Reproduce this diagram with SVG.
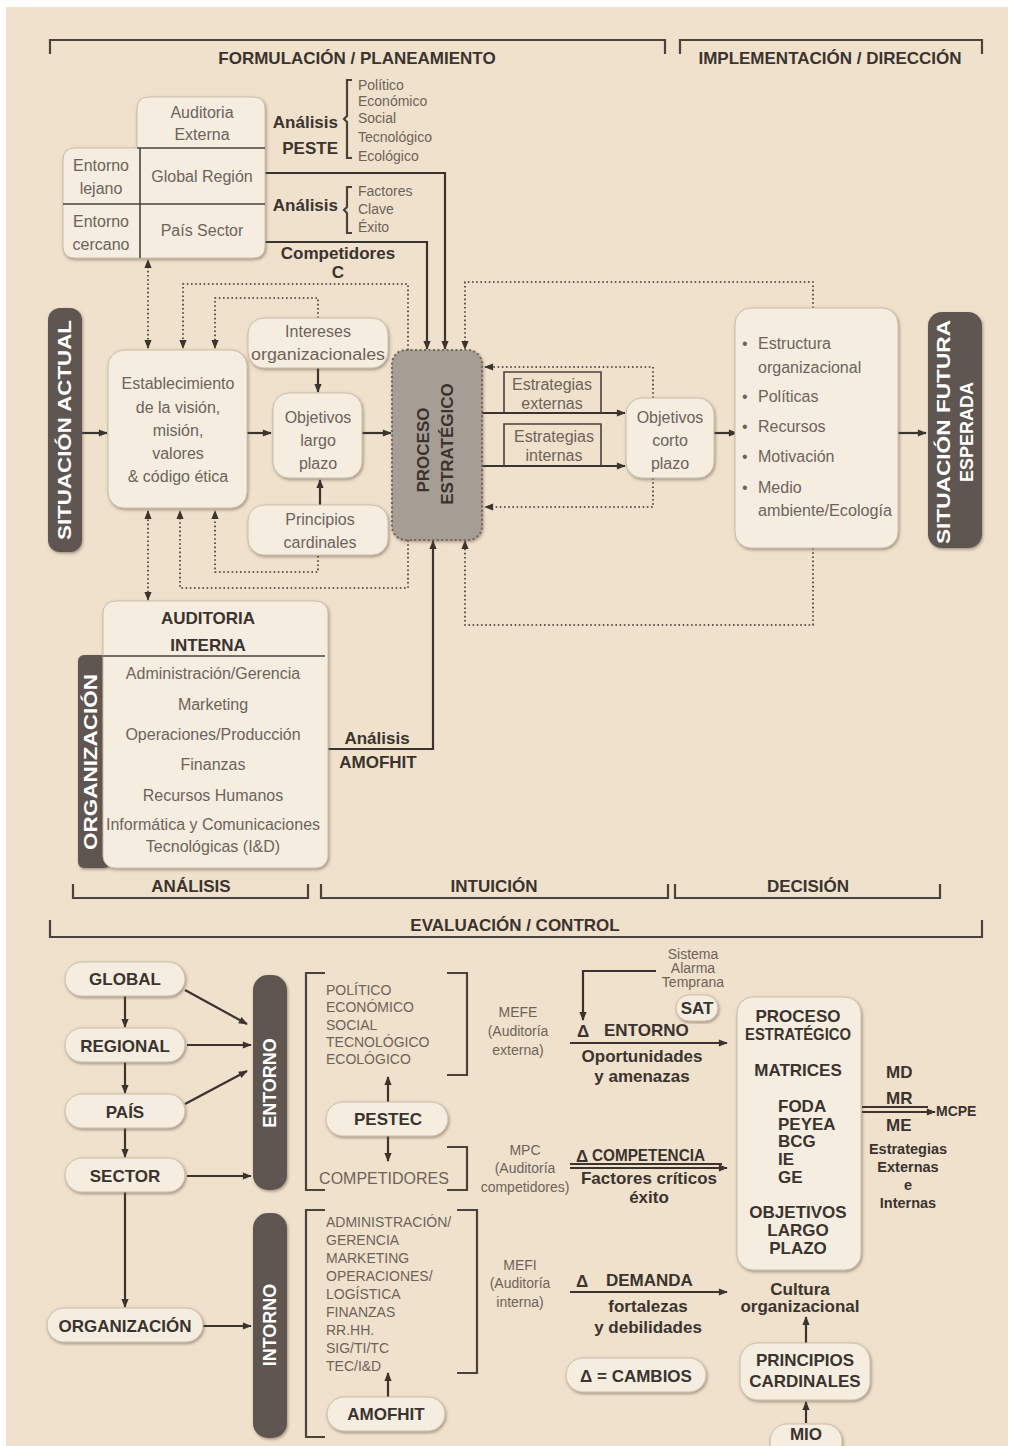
<svg xmlns="http://www.w3.org/2000/svg" width="1014" height="1446" viewBox="0 0 1014 1446">
<defs>
  <filter id="sh" x="-10%" y="-10%" width="120%" height="120%">
    <feDropShadow dx="1" dy="1.5" stdDeviation="1.8" flood-color="#5e5044" flood-opacity="0.55"/>
  </filter>
  <marker id="ah" viewBox="0 0 10 10" refX="9" refY="5" markerWidth="10" markerHeight="9" markerUnits="userSpaceOnUse" orient="auto-start-reverse">
    <path d="M0,1 L10,5 L0,9 Z" fill="#3a332e"/>
  </marker>
  <style>
    .box{fill:#f6ede1;stroke:#cdbda9;stroke-width:1;filter:url(#sh)}
    .bar{fill:#5f5751;filter:url(#sh)}
    .proc{fill:#a69d95;stroke:#6e665e;stroke-width:2;stroke-dasharray:2 2.5;filter:url(#sh)}
    .ln{fill:none;stroke:#3a332e;stroke-width:2.2}
    .dot{fill:none;stroke:#3a332e;stroke-width:1.6;stroke-dasharray:1.6 2.6}
    .brk{fill:none;stroke:#4a423c;stroke-width:2.2}
    .div{fill:none;stroke:#4a423c;stroke-width:1.6}
    text{font-family:"Liberation Sans",Arial,sans-serif}
    .t{fill:#6d635a;font-size:16px}
    .s{fill:#6d635a;font-size:14px}
    .b{fill:#3a332e;font-weight:bold;font-size:17px}
    .w{fill:#ffffff;font-weight:bold;font-size:18px}
    .c{text-anchor:middle}
    .e{text-anchor:end}
  </style>
</defs>

<!-- page -->
<rect x="0" y="0" width="1014" height="1446" fill="#ffffff"/>
<rect x="6" y="7" width="1002" height="1439" fill="#f0e1cc"/>

<!-- section brackets -->
<g id="headers">
  <path class="brk" d="M50,54 V40 H665 V54"/>
  <text class="b c" x="357" y="64" font-size="18">FORMULACIÓN / PLANEAMIENTO</text>
  <path class="brk" d="M680,54 V40 H982 V54"/>
  <text class="b c" x="830" y="64" font-size="18">IMPLEMENTACIÓN / DIRECCIÓN</text>
  <path class="brk" d="M73,884 V898 H308 V884"/>
  <text class="b c" x="191" y="892" font-size="18">ANÁLISIS</text>
  <path class="brk" d="M321,884 V898 H668 V884"/>
  <text class="b c" x="494" y="892" font-size="18">INTUICIÓN</text>
  <path class="brk" d="M675,884 V898 H940 V884"/>
  <text class="b c" x="808" y="892" font-size="18">DECISIÓN</text>
  <path class="brk" d="M50,920 V937 H982 V920"/>
  <text class="b c" x="515" y="931" font-size="18">EVALUACIÓN / CONTROL</text>
</g>

<!-- connectors -->
<g id="connectors">
  <!-- upper flow -->
  <path class="ln" d="M82,433 H107" marker-end="url(#ah)"/>
  <path class="ln" d="M247,433 H271" marker-end="url(#ah)"/>
  <path class="ln" d="M318,368 V392" marker-end="url(#ah)"/>
  <path class="ln" d="M320,505 V480" marker-end="url(#ah)"/>
  <path class="ln" d="M362,433 H391" marker-end="url(#ah)"/>
  <path class="ln" d="M265,173 H445 V349" marker-end="url(#ah)"/>
  <path class="ln" d="M265,242 H427 V349" marker-end="url(#ah)"/>
  <path class="ln" d="M328,749 H433 V541" marker-end="url(#ah)"/>
  <path class="ln" d="M482,413 H625" marker-end="url(#ah)"/>
  <path class="ln" d="M482,466 H625" marker-end="url(#ah)"/>
  <path class="ln" d="M714,433 H737" marker-end="url(#ah)"/>
  <path class="ln" d="M898,433 H926" marker-end="url(#ah)"/>
  <!-- estrategia labels -->
  <path class="div" d="M504,413 V372 H601 V413"/>
  <path class="div" d="M504,466 V424 H601 V466"/>
  <!-- feedback loops (dotted) -->
  <path class="dot" d="M148,348 V260" marker-start="url(#ah)" marker-end="url(#ah)"/>
  <path class="dot" d="M148,511 V600" marker-start="url(#ah)" marker-end="url(#ah)"/>
  <path class="dot" d="M408,350 V284 H183 V348" marker-end="url(#ah)"/>
  <path class="dot" d="M408,540 V588 H180 V511" marker-end="url(#ah)"/>
  <path class="dot" d="M318,318 V298 H215 V348" marker-end="url(#ah)"/>
  <path class="dot" d="M318,556 V572 H215 V511" marker-end="url(#ah)"/>
  <path class="dot" d="M653,398 V367 H485" marker-end="url(#ah)"/>
  <path class="dot" d="M653,478 V507 H485" marker-end="url(#ah)"/>
  <path class="dot" d="M813,308 V282 H465 V349" marker-end="url(#ah)"/>
  <path class="dot" d="M813,548 V625 H465 V541" marker-end="url(#ah)"/>

  <!-- lower flow -->
  <path class="ln" d="M125,996 V1027" marker-end="url(#ah)"/>
  <path class="ln" d="M125,1062 V1093" marker-end="url(#ah)"/>
  <path class="ln" d="M125,1128 V1157" marker-end="url(#ah)"/>
  <path class="ln" d="M125,1192 V1307" marker-end="url(#ah)"/>
  <path class="ln" d="M185,990 L247,1024" marker-end="url(#ah)"/>
  <path class="ln" d="M187,1045 H251" marker-end="url(#ah)"/>
  <path class="ln" d="M185,1104 L247,1071" marker-end="url(#ah)"/>
  <path class="ln" d="M187,1176 H251" marker-end="url(#ah)"/>
  <path class="ln" d="M203,1326 H251" marker-end="url(#ah)"/>
  <path class="ln" d="M388,1102 V1077" marker-end="url(#ah)"/>
  <path class="ln" d="M388,1136 V1161" marker-end="url(#ah)"/>
  <path class="ln" d="M388,1397 V1373" marker-end="url(#ah)"/>
  <path class="ln" d="M656,971 H583 V1020" marker-end="url(#ah)"/>
  <path class="ln" d="M570,1043 H727" marker-end="url(#ah)"/>
  <path class="ln" d="M570,1164 H722"/>
  <path class="ln" d="M570,1168 H727" marker-end="url(#ah)"/>
  <path class="ln" d="M570,1292 H727" marker-end="url(#ah)"/>
  <path class="ln" d="M862,1107 H928"/>
  <path class="ln" d="M862,1112 H935" marker-end="url(#ah)"/>
  <path class="ln" d="M806,1343 V1317" marker-end="url(#ah)"/>
  <path class="ln" d="M806,1423 V1402" marker-end="url(#ah)"/>

  <!-- list brackets -->
  <path class="brk" d="M352,80 H347 V116 L344,119 L347,122 V158 H352"/>
  <path class="brk" d="M352,187 H347 V207 L344,210 L347,213 V233 H352"/>
  <path class="brk" d="M325,973 H306 V1190 H325"/>
  <path class="brk" d="M447,973 H467 V1075 H447"/>
  <path class="brk" d="M447,1147 H467 V1190 H447"/>
  <path class="brk" d="M325,1210 H306 V1437 H325"/>
  <path class="brk" d="M457,1210 H477 V1373 H457"/>
</g>

<!-- upper section nodes -->
<g id="situacion-actual">
  <rect class="bar" x="48" y="308" width="34" height="244" rx="12"/>
  <text class="w c" transform="translate(71,430) rotate(-90)" textLength="220" lengthAdjust="spacingAndGlyphs">SITUACIÓN ACTUAL</text>
</g>

<g id="auditoria-externa">
  <path class="box" d="M63,160 Q63,148 75,148 H137 V109 Q137,97 149,97 H253 Q265,97 265,109 V246 Q265,258 253,258 H75 Q63,258 63,246 Z"/>
  <path class="div" d="M137,148 H265 M63,204 H265 M140,148 V258"/>
  <text class="t c" x="202" y="118" font-size="17">Auditoria</text>
  <text class="t c" x="202" y="140" font-size="17">Externa</text>
  <text class="t c" x="101" y="171" font-size="17">Entorno</text>
  <text class="t c" x="101" y="194" font-size="17">lejano</text>
  <text class="t c" x="202" y="182" font-size="17">Global Región</text>
  <text class="t c" x="101" y="227" font-size="17">Entorno</text>
  <text class="t c" x="101" y="250" font-size="17">cercano</text>
  <text class="t c" x="202" y="236" font-size="17">País Sector</text>
</g>

<g id="analisis-peste">
  <text class="b e" x="338" y="128" font-size="18">Análisis</text>
  <text class="b e" x="338" y="154" font-size="18">PESTE</text>
  <text class="s" x="358" y="90">Político</text>
  <text class="s" x="358" y="106">Económico</text>
  <text class="s" x="358" y="123">Social</text>
  <text class="s" x="358" y="142">Tecnológico</text>
  <text class="s" x="358" y="161">Ecológico</text>
</g>

<g id="analisis-fce">
  <text class="b e" x="338" y="211" font-size="18">Análisis</text>
  <text class="s" x="358" y="196">Factores</text>
  <text class="s" x="358" y="214">Clave</text>
  <text class="s" x="358" y="232">Éxito</text>
</g>

<g id="competidores">
  <text class="b c" x="338" y="259" font-size="18">Competidores</text>
  <text class="b c" x="338" y="278" font-size="18">C</text>
</g>

<g id="establecimiento">
  <rect class="box" x="108" y="350" width="139" height="158" rx="16"/>
  <text class="t c" x="178" y="389" font-size="17">Establecimiento</text>
  <text class="t c" x="178" y="413" font-size="17">de la visión,</text>
  <text class="t c" x="178" y="436" font-size="17">misión,</text>
  <text class="t c" x="178" y="459" font-size="17">valores</text>
  <text class="t c" x="178" y="482" font-size="17">&amp; código ética</text>
</g>

<g id="intereses">
  <rect class="box" x="248" y="318" width="140" height="50" rx="16"/>
  <text class="t c" x="318" y="337" font-size="17">Intereses</text>
  <text class="t c" x="318" y="360" font-size="17" textLength="134" lengthAdjust="spacingAndGlyphs">organizacionales</text>
</g>

<g id="objetivos-largo">
  <rect class="box" x="273" y="393" width="89" height="85" rx="16"/>
  <text class="t c" x="318" y="423" font-size="17">Objetivos</text>
  <text class="t c" x="318" y="446" font-size="17">largo</text>
  <text class="t c" x="318" y="469" font-size="17">plazo</text>
</g>

<g id="principios">
  <rect class="box" x="248" y="505" width="140" height="50" rx="16"/>
  <text class="t c" x="320" y="525" font-size="17">Principios</text>
  <text class="t c" x="320" y="548" font-size="17">cardinales</text>
</g>

<g id="proceso-estrategico">
  <rect class="proc" x="392" y="350" width="90" height="190" rx="14"/>
  <text class="b c" transform="translate(429,450) rotate(-90)" font-size="18">PROCESO</text>
  <text class="b c" transform="translate(453,444) rotate(-90)" font-size="18">ESTRATÉGICO</text>
</g>

<g id="estrategias">
  <text class="t c" x="552" y="390">Estrategias</text>
  <text class="t c" x="552" y="409">externas</text>
  <text class="t c" x="554" y="442">Estrategias</text>
  <text class="t c" x="554" y="461">internas</text>
</g>

<g id="objetivos-corto">
  <rect class="box" x="626" y="398" width="88" height="80" rx="16"/>
  <text class="t c" x="670" y="423" font-size="17">Objetivos</text>
  <text class="t c" x="670" y="446" font-size="17">corto</text>
  <text class="t c" x="670" y="469" font-size="17">plazo</text>
</g>

<g id="implementacion">
  <rect class="box" x="735" y="308" width="163" height="240" rx="16"/>
  <g class="t" font-size="16">
    <text x="742" y="349">•</text><text x="758" y="349">Estructura</text>
    <text x="758" y="373">organizacional</text>
    <text x="742" y="402">•</text><text x="758" y="402">Políticas</text>
    <text x="742" y="432">•</text><text x="758" y="432">Recursos</text>
    <text x="742" y="462">•</text><text x="758" y="462">Motivación</text>
    <text x="742" y="493">•</text><text x="758" y="493">Medio</text>
    <text x="758" y="516" textLength="134" lengthAdjust="spacingAndGlyphs">ambiente/Ecología</text>
  </g>
</g>

<g id="situacion-futura">
  <rect class="bar" x="928" y="312" width="54" height="236" rx="14"/>
  <text class="w c" transform="translate(950,432) rotate(-90)" textLength="224" lengthAdjust="spacingAndGlyphs">SITUACIÓN FUTURA</text>
  <text class="w c" transform="translate(973,432) rotate(-90)">ESPERADA</text>
</g>

<g id="auditoria-interna">
  <rect class="bar" x="78" y="655" width="32" height="213" rx="6"/>
  <rect class="box" x="103" y="601" width="225" height="267" rx="12"/>
  <path class="div" d="M103,656 H325"/>
  <text class="w c" transform="translate(97,762) rotate(-90)" font-size="17" textLength="176" lengthAdjust="spacingAndGlyphs">ORGANIZACIÓN</text>
  <text class="b c" x="208" y="624" font-size="18">AUDITORIA</text>
  <text class="b c" x="208" y="651" font-size="18">INTERNA</text>
  <g class="t c" font-size="15.5">
    <text x="213" y="679">Administración/Gerencia</text>
    <text x="213" y="710">Marketing</text>
    <text x="213" y="740">Operaciones/Producción</text>
    <text x="213" y="770">Finanzas</text>
    <text x="213" y="801">Recursos Humanos</text>
    <text x="213" y="830" textLength="214" lengthAdjust="spacingAndGlyphs">Informática y Comunicaciones</text>
    <text x="213" y="852">Tecnológicas (I&amp;D)</text>
  </g>
</g>

<g id="analisis-amofhit">
  <text class="b c" x="377" y="744" font-size="18">Análisis</text>
  <text class="b c" x="378" y="768" font-size="18">AMOFHIT</text>
</g>

<!-- lower section nodes -->
<g id="global">
  <rect class="box" x="65" y="962" width="120" height="34" rx="17"/>
  <text class="b c" x="125" y="985" font-size="18">GLOBAL</text>
</g>
<g id="regional">
  <rect class="box" x="65" y="1028" width="120" height="34" rx="17"/>
  <text class="b c" x="125" y="1052" font-size="18">REGIONAL</text>
</g>
<g id="pais">
  <rect class="box" x="65" y="1094" width="120" height="34" rx="17"/>
  <text class="b c" x="125" y="1118" font-size="18">PAÍS</text>
</g>
<g id="sector">
  <rect class="box" x="65" y="1158" width="120" height="34" rx="17"/>
  <text class="b c" x="125" y="1182" font-size="18">SECTOR</text>
</g>
<g id="organizacion">
  <rect class="box" x="47" y="1308" width="156" height="34" rx="17"/>
  <text class="b c" x="125" y="1332" font-size="18">ORGANIZACIÓN</text>
</g>

<g id="entorno">
  <rect class="bar" x="253" y="975" width="34" height="215" rx="15"/>
  <text class="w c" transform="translate(276,1083) rotate(-90)" font-size="17">ENTORNO</text>
</g>
<g id="intorno">
  <rect class="bar" x="253" y="1213" width="34" height="225" rx="15"/>
  <text class="w c" transform="translate(276,1325) rotate(-90)" font-size="17">INTORNO</text>
</g>

<g id="lista-pestec">
  <g class="s" font-size="14.5">
    <text x="326" y="995">POLÍTICO</text>
    <text x="326" y="1012">ECONÓMICO</text>
    <text x="326" y="1030">SOCIAL</text>
    <text x="326" y="1047">TECNOLÓGICO</text>
    <text x="326" y="1064">ECOLÓGICO</text>
  </g>
  <text class="t c" x="384" y="1184" font-size="18">COMPETIDORES</text>
</g>
<g id="pestec">
  <rect class="box" x="326" y="1102" width="122" height="34" rx="17"/>
  <text class="b c" x="388" y="1125" font-size="18">PESTEC</text>
</g>

<g id="lista-amofhit">
  <g class="s" font-size="14">
    <text x="326" y="1227">ADMINISTRACIÓN/</text>
    <text x="326" y="1245">GERENCIA</text>
    <text x="326" y="1263">MARKETING</text>
    <text x="326" y="1281">OPERACIONES/</text>
    <text x="326" y="1299">LOGÍSTICA</text>
    <text x="326" y="1317">FINANZAS</text>
    <text x="326" y="1335">RR.HH.</text>
    <text x="326" y="1353">SIG/TI/TC</text>
    <text x="326" y="1371">TEC/I&amp;D</text>
  </g>
</g>
<g id="amofhit">
  <rect class="box" x="327" y="1397" width="118" height="34" rx="17"/>
  <text class="b c" x="386" y="1420" font-size="18">AMOFHIT</text>
</g>

<g id="matrices-auditoria">
  <g class="s c" font-size="14.5">
    <text x="518" y="1017">MEFE</text>
    <text x="518" y="1036">(Auditoría</text>
    <text x="518" y="1055">externa)</text>
    <text x="525" y="1155">MPC</text>
    <text x="525" y="1173">(Auditoría</text>
    <text x="525" y="1192">competidores)</text>
    <text x="520" y="1270">MEFI</text>
    <text x="520" y="1288">(Auditoría</text>
    <text x="520" y="1307">interna)</text>
  </g>
</g>

<g id="sat">
  <g class="s c" font-size="12">
    <text x="693" y="959">Sistema</text>
    <text x="693" y="973">Alarma</text>
    <text x="693" y="987">Temprana</text>
  </g>
  <rect class="box" x="676" y="995" width="42" height="26" rx="13"/>
  <text class="b c" x="697" y="1014" font-size="16">SAT</text>
</g>

<g id="cambios-entorno">
  <text class="b c" x="583" y="1037" font-size="20">Δ</text>
  <text class="b" x="604" y="1036" font-size="16">ENTORNO</text>
  <text class="b c" x="642" y="1062" font-size="16">Oportunidades</text>
  <text class="b c" x="642" y="1082" font-size="16">y amenazas</text>
</g>
<g id="cambios-competencia">
  <text class="b c" x="582" y="1162" font-size="20">Δ</text>
  <text class="b" x="592" y="1161" font-size="16" textLength="113" lengthAdjust="spacingAndGlyphs">COMPETENCIA</text>
  <text class="b c" x="649" y="1184" font-size="15">Factores críticos</text>
  <text class="b c" x="649" y="1203" font-size="15">éxito</text>
</g>
<g id="cambios-demanda">
  <text class="b c" x="582" y="1287" font-size="20">Δ</text>
  <text class="b" x="606" y="1286" font-size="16">DEMANDA</text>
  <text class="b c" x="648" y="1312" font-size="16">fortalezas</text>
  <text class="b c" x="648" y="1333" font-size="16">y debilidades</text>
</g>
<g id="cambios">
  <rect class="box" x="566" y="1358" width="140" height="34" rx="17"/>
  <text class="b c" x="636" y="1382" font-size="18">Δ = CAMBIOS</text>
</g>

<g id="proceso-matrices">
  <rect class="box" x="737" y="997" width="124" height="273" rx="16"/>
  <g class="b" font-size="16">
    <text class="c" x="798" y="1022">PROCESO</text>
    <text class="c" x="798" y="1040" textLength="106" lengthAdjust="spacingAndGlyphs">ESTRATÉGICO</text>
    <text class="c" x="798" y="1076">MATRICES</text>
    <text x="778" y="1112">FODA</text>
    <text x="778" y="1130">PEYEA</text>
    <text x="778" y="1147">BCG</text>
    <text x="778" y="1165">IE</text>
    <text x="778" y="1183">GE</text>
    <text class="c" x="798" y="1218">OBJETIVOS</text>
    <text class="c" x="798" y="1236">LARGO</text>
    <text class="c" x="798" y="1254">PLAZO</text>
  </g>
</g>

<g id="cultura">
  <text class="b c" x="800" y="1295" font-size="15">Cultura</text>
  <text class="b c" x="800" y="1312" font-size="15">organizacional</text>
</g>

<g id="principios-cardinales">
  <rect class="box" x="740" y="1343" width="130" height="57" rx="18"/>
  <text class="b c" x="805" y="1366" font-size="18">PRINCIPIOS</text>
  <text class="b c" x="805" y="1387" font-size="18">CARDINALES</text>
</g>

<g id="mio">
  <rect class="box" x="770" y="1424" width="72" height="36" rx="17"/>
  <text class="b c" x="806" y="1440" font-size="14">MIO</text>
</g>

<g id="salidas">
  <g class="b" font-size="15">
    <text x="886" y="1078">MD</text>
    <text x="886" y="1104">MR</text>
    <text x="886" y="1131">ME</text>
    <text x="936" y="1116" font-size="14">MCPE</text>
    <text class="c" x="908" y="1154" font-size="14.5">Estrategias</text>
    <text class="c" x="908" y="1172" font-size="14.5">Externas</text>
    <text class="c" x="908" y="1190" font-size="14.5">e</text>
    <text class="c" x="908" y="1208" font-size="14.5">Internas</text>
  </g>
</g>
</svg>
